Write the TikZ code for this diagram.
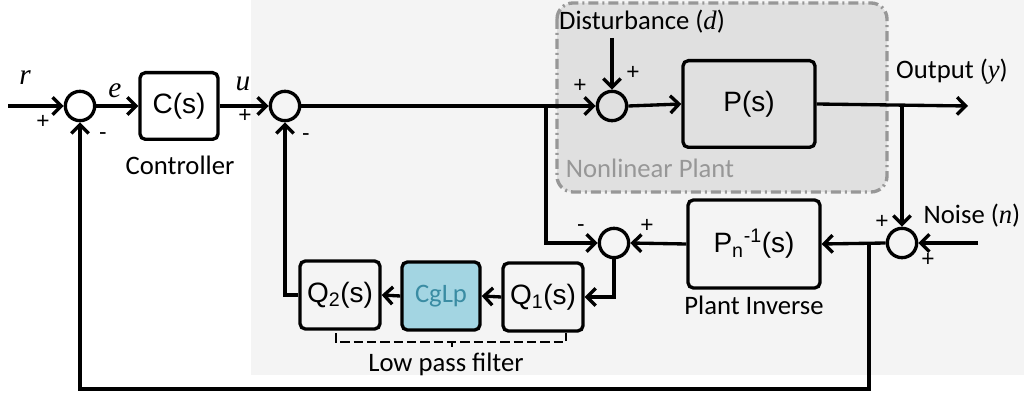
\documentclass[tikz,border=0pt]{standalone}
\usepackage{fontspec}
\setmainfont{Carlito}
\newfontfamily\tms{Liberation Serif}
\newfontfamily\arl{Liberation Sans}
\usetikzlibrary{arrows.meta}
\definecolor{bgg}{HTML}{F4F4F4}
\definecolor{plantg}{HTML}{E0E0E0}
\definecolor{dashg}{HTML}{979797}
\definecolor{cgfill}{HTML}{A3D5E2}
\definecolor{cgtext}{HTML}{3A8CA3}
\begin{document}
\begin{tikzpicture}[x=0.75pt,y=-0.75pt,
  lw/.style={line width=2.5pt},
  sumn/.style={circle, draw, line width=2.5pt, minimum size=22pt, inner sep=0pt},
  blk/.style={draw, line width=2.5pt, rounded corners=4pt, inner sep=0pt, font=\fontsize{21}{24}\selectfont\arl},
  lbl/.style={font=\fontsize{20}{24}\selectfont, inner sep=0pt},
  pm/.style={font=\fontsize{17}{18}\selectfont\arl, inner sep=0pt},
  varl/.style={font=\fontsize{22}{24}\selectfont\tms\itshape, inner sep=0pt},
  arr/.style={lw, -{Straight Barb[length=6.5pt,width=13pt]}}]
\useasboundingbox (0,0) rectangle (1024,395);
\fill[white] (0,0) rectangle (1024,395);
\fill[bgg] (251,0) rectangle (1024,375);
% nonlinear plant region
\draw[fill=plantg, draw=dashg, line width=2.5pt, rounded corners=12pt,
  dash pattern=on 7.5pt off 3pt on 1.5pt off 3pt] (557,3) rectangle (887,192);
\node[lbl, text=dashg] (nlp) at (650,168) {Nonlinear Plant};

% summing junctions
\node[sumn] (s1) at (80,106) {};
\node[sumn] (s2) at (285,106) {};
\node[sumn] (ds) at (612,106) {};
\node[sumn] (s3) at (614,243) {};
\node[sumn] (s4) at (902,243) {};

% blocks
\node[blk, minimum width=58.5pt, minimum height=50pt] (C) at (179,106) {C(s)};
\node[blk, minimum width=99pt, minimum height=65pt] (P) at (749,104) {P(s)};
\node[blk, minimum width=99pt, minimum height=66pt] (Pinv) at (754,244) {P\textsubscript{n}\textsuperscript{-1}(s)};
\node[blk, minimum width=60pt, minimum height=51pt] (Q1) at (543,297) {Q\textsubscript{1}(s)};
\node[blk, minimum width=58.5pt, minimum height=51pt, fill=cgfill, text=cgtext, font=\fontsize{20}{22}\selectfont\rmfamily] (CG) at (441,296) {CgLp};
\node[blk, minimum width=60pt, minimum height=51pt] (Q2) at (340,295) {Q\textsubscript{2}(s)};

% text labels
\node[lbl] (ctl) at (180,165) {Controller};
\node[lbl] (pil) at (754,305) {Plant Inverse};
\node[lbl] (lpf) at (446,364) {Low pass filter};
\node[lbl] (outl) at (952,72) {Output ({\tms\itshape y})};
\node[lbl] (dl) at (642,22) {Disturbance ({\tms\itshape d})};
\node[lbl] (nl) at (972,216) {Noise ({\tms\itshape n})};
\node[varl] (rl) at (25,78) {r};
\node[varl] (el) at (115,91) {e};
\node[varl] (ul) at (243,84) {u};

% signs
\node[pm] at (43,122) {+};
\node[pm] at (103,136) {-};
\node[pm] at (245,116) {+};
\node[pm] at (306,137) {-};
\node[pm] at (580,86) {+};
\node[pm] at (633,73) {+};
\node[pm] at (581,228) {-};
\node[pm] at (647,226) {+};
\node[pm] at (882,222) {+};
\node[pm] at (928,260) {+};

% coordinates
\coordinate (rin) at (8,106);
\coordinate (out) at (968,106);
\coordinate (br1) at (546,106);
\coordinate (br2) at (902,106);
\coordinate (dtop) at (612,38);
\coordinate (nin) at (978,243);
\coordinate (br3) at (869,243);
\coordinate (fb) at (869,389);

% connectors
\draw[arr] (rin) -- (s1.west);
\draw[arr] (s1.east) -- (C.west);
\draw[arr] (C.east) -- (s2.west);
\draw[arr] (s2.east) -- (ds.west);
\draw[arr] (ds.east) -- (P.west);
\draw[arr] (P.east) -- (out);
\draw[arr] (dtop) -- (ds.north);
\draw[arr] (br1) |- (s3.west);
\draw[arr] (br2) -- (s4.north);
\draw[arr] (nin) -- (s4.east);
\draw[arr] (s4.west) -- (Pinv.east);
\draw[arr] (Pinv.west) -- (s3.east);
\draw[arr] (s3.south) |- (Q1.east);
\draw[arr] (Q1.west) -- (CG.east);
\draw[arr] (CG.west) -- (Q2.east);
\draw[arr] (Q2.west) -| (s2.south);
\draw[arr] (br3) -- (fb) -| (s1.south);

% low pass filter bracket
\draw[line width=2pt, dash pattern=on 7pt off 3pt] (336,333) -- (336,342) -- (566,342) -- (566,333);
\draw[line width=2pt] (452,342) -- (452,347);
\end{tikzpicture}
\end{document}
